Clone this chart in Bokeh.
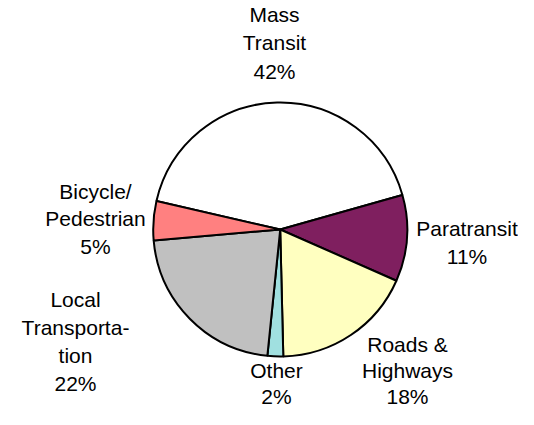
import math
from bokeh.plotting import figure
from bokeh.models import ColumnDataSource, Range1d
from bokeh.core.properties import value
from bokeh.embed import file_html
from bokeh.resources import INLINE

# ---- data ----
categories = ["Mass Transit", "Paratransit", "Roads & Highways", "Other",
              "Local Transportation", "Bicycle/Pedestrian"]
shares = [42, 11, 18, 2, 22, 5]
label_names = ["Mass\nTransit", "Paratransit", "Roads &\nHighways", "Other",
               "Local\nTransporta-\ntion", "Bicycle/\nPedestrian"]
colors = ["#FFFFFF", "#7F1F5F", "#FFFFC0", "#A0E0E0", "#C0C0C0", "#FF8080"]

# ---- layout (picture pixel coords) ----
W, H = 518, 409
TEXT_DY = 7.5  # renderer places text this much lower than the anchor
def X(px): return px
def Y(py): return H - py

cx, cy, R = 279.7, 229.0, 127
first_angle = 167.0  # degrees, slices go clockwise from here
# label anchors: (center x, first baseline y, line gap) in picture px
label_pos = [(274, 21.5, 28.3), (466.5, 235, 28.2), (407, 351, 26),
             (276, 377, 26), (75, 306.7, 28), (95, 198, 27.5)]

total = float(sum(shares))
starts, ends = [], []
cum = 0.0
for v in shares:
    s = first_angle - cum / total * 360.0
    e = s - v / total * 360.0
    starts.append(math.radians(e))
    ends.append(math.radians(s))
    cum += v

src = ColumnDataSource(dict(x=[X(cx)] * len(shares), y=[Y(cy)] * len(shares),
                            start=starts, end=ends, color=colors, cat=categories))

p = figure(width=W, height=H, output_backend="svg", toolbar_location=None,
           x_range=Range1d(0, W), y_range=Range1d(0, H), min_border=0)
p.axis.visible = False
p.grid.visible = False
p.outline_line_color = None
p.background_fill_color = "white"
p.border_fill_color = "white"

p.wedge(x="x", y="y", radius=R, radius_units="screen", start_angle="start",
        end_angle="end", direction="anticlock", fill_color="color",
        line_color="black", line_width=2, source=src)

tx, ty, tt = [], [], []
for name, v, (lx, ly, gap) in zip(label_names, shares, label_pos):
    lines = name.split("\n") + [f"{v}%"]
    for i, ln in enumerate(lines):
        tx.append(X(lx))
        ty.append(Y(ly + i * gap - TEXT_DY))
        tt.append(ln)

p.text(x=tx, y=ty, text=tt, text_align="center", text_baseline="alphabetic",
       text_font=value("Liberation Sans"), text_font_size="21px",
       text_color="#000000")

open("out.html", "w").write(file_html(p, INLINE))
